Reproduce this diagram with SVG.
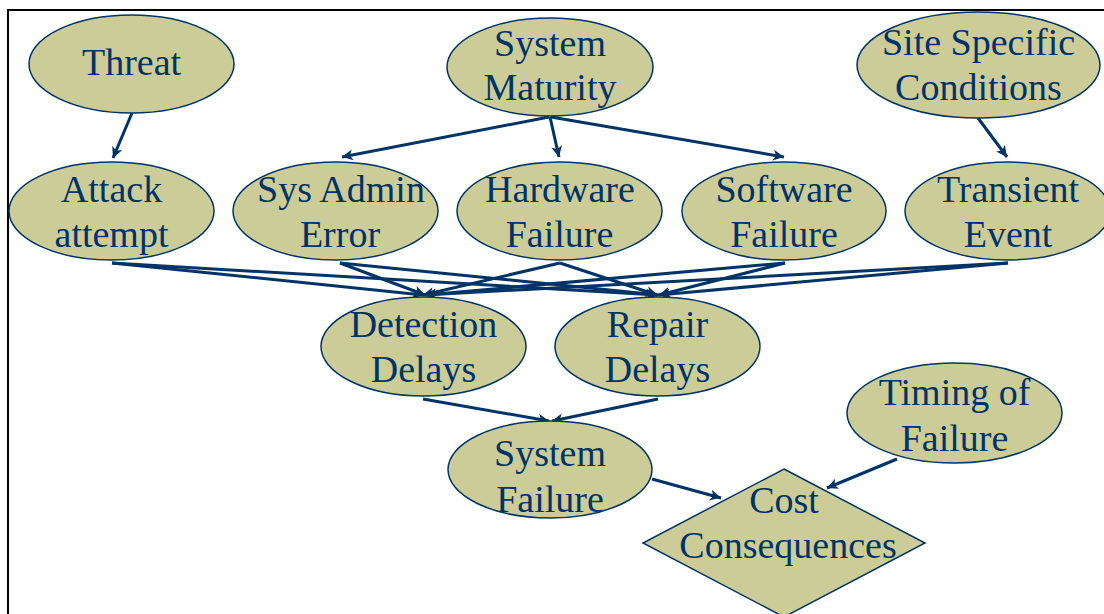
<svg xmlns="http://www.w3.org/2000/svg" width="1104" height="614" viewBox="0 0 1104 614">
<style>
.n ellipse, .n polygon { fill: #CCCC99; stroke: #003366; stroke-width: 1.5; }
.n text { font-family: "Liberation Serif", "Times New Roman", serif; font-size: 38px; fill: #003366; text-anchor: middle; }
.c line { stroke: #003366; stroke-width: 3; marker-end: url(#ah); }
</style>
<defs>
<marker id="ah" markerUnits="userSpaceOnUse" markerWidth="14" markerHeight="12" refX="11" refY="6" orient="auto">
<path d="M0,0.5 L11,6 L0,11.5 L3,6 Z" fill="#003366"/>
</marker>
</defs>
<rect x="0" y="0" width="1104" height="614" fill="#ffffff"/>
<path d="M8,614 L8,10 L1104,10" fill="none" stroke="#000000" stroke-width="2"/>
<g class="c" id="connectors">
<line x1="132" y1="113" x2="113" y2="158"/>
<line x1="549" y1="117" x2="342" y2="157"/>
<line x1="550" y1="117" x2="559" y2="157"/>
<line x1="551" y1="117" x2="784" y2="157"/>
<line x1="978" y1="118" x2="1007" y2="157"/>
<line x1="112" y1="263" x2="423" y2="295"/>
<line x1="112" y1="263" x2="657" y2="295"/>
<line x1="340" y1="263" x2="425" y2="295"/>
<line x1="340" y1="263" x2="659" y2="295"/>
<line x1="560" y1="263" x2="423" y2="295"/>
<line x1="560" y1="263" x2="657" y2="295"/>
<line x1="785" y1="263" x2="425" y2="295"/>
<line x1="785" y1="263" x2="659" y2="295"/>
<line x1="1008" y1="263" x2="425" y2="295"/>
<line x1="1008" y1="263" x2="659" y2="295"/>
<line x1="423" y1="399" x2="549" y2="421"/>
<line x1="658" y1="399" x2="552" y2="421"/>
<line x1="652" y1="479" x2="721" y2="498"/>
<line x1="897" y1="459" x2="827" y2="488"/>
</g>
<g class="n" id="threat"><ellipse cx="131.5" cy="64" rx="102.5" ry="49"/><text x="131.5" y="75">Threat</text></g>
<g class="n" id="system-maturity"><ellipse cx="550" cy="67" rx="103" ry="49"/><text x="550" y="56">System</text><text x="550" y="100">Maturity</text></g>
<g class="n" id="site-specific"><ellipse cx="978.5" cy="65" rx="121.5" ry="53"/><text x="978.5" y="55">Site Specific</text><text x="978.5" y="100">Conditions</text></g>
<g class="n" id="attack"><ellipse cx="111.5" cy="211" rx="102.5" ry="49"/><text x="111.5" y="202">Attack</text><text x="111.5" y="247">attempt</text></g>
<g class="n" id="sys-admin"><ellipse cx="335.5" cy="211" rx="102.5" ry="49"/><text x="341" y="202">Sys Admin</text><text x="340" y="247">Error</text></g>
<g class="n" id="hardware"><ellipse cx="559.5" cy="211" rx="102.5" ry="49"/><text x="560" y="202">Hardware</text><text x="559.5" y="247">Failure</text></g>
<g class="n" id="software"><ellipse cx="784" cy="211" rx="102" ry="49"/><text x="784" y="202">Software</text><text x="784" y="247">Failure</text></g>
<g class="n" id="transient"><ellipse cx="1007.5" cy="211" rx="102.5" ry="49"/><text x="1008" y="202">Transient</text><text x="1008" y="247">Event</text></g>
<g class="n" id="detection"><ellipse cx="423.5" cy="346.5" rx="102.5" ry="49.5"/><text x="423.5" y="337">Detection</text><text x="423.5" y="382">Delays</text></g>
<g class="n" id="repair"><ellipse cx="657.5" cy="346.5" rx="102.5" ry="49.5"/><text x="657.5" y="337">Repair</text><text x="657.5" y="382">Delays</text></g>
<g class="n" id="system-failure"><ellipse cx="550" cy="469.5" rx="102" ry="48.5"/><text x="550" y="466">System</text><text x="550" y="512">Failure</text></g>
<g class="n" id="timing"><ellipse cx="954.5" cy="413" rx="107.5" ry="50"/><text x="954.5" y="405">Timing of</text><text x="954.5" y="451">Failure</text></g>
<g class="n" id="cost"><polygon points="784,469 925,543 784,617 643,543"/><text x="784" y="513">Cost</text><text x="788" y="558">Consequences</text></g>
</svg>
